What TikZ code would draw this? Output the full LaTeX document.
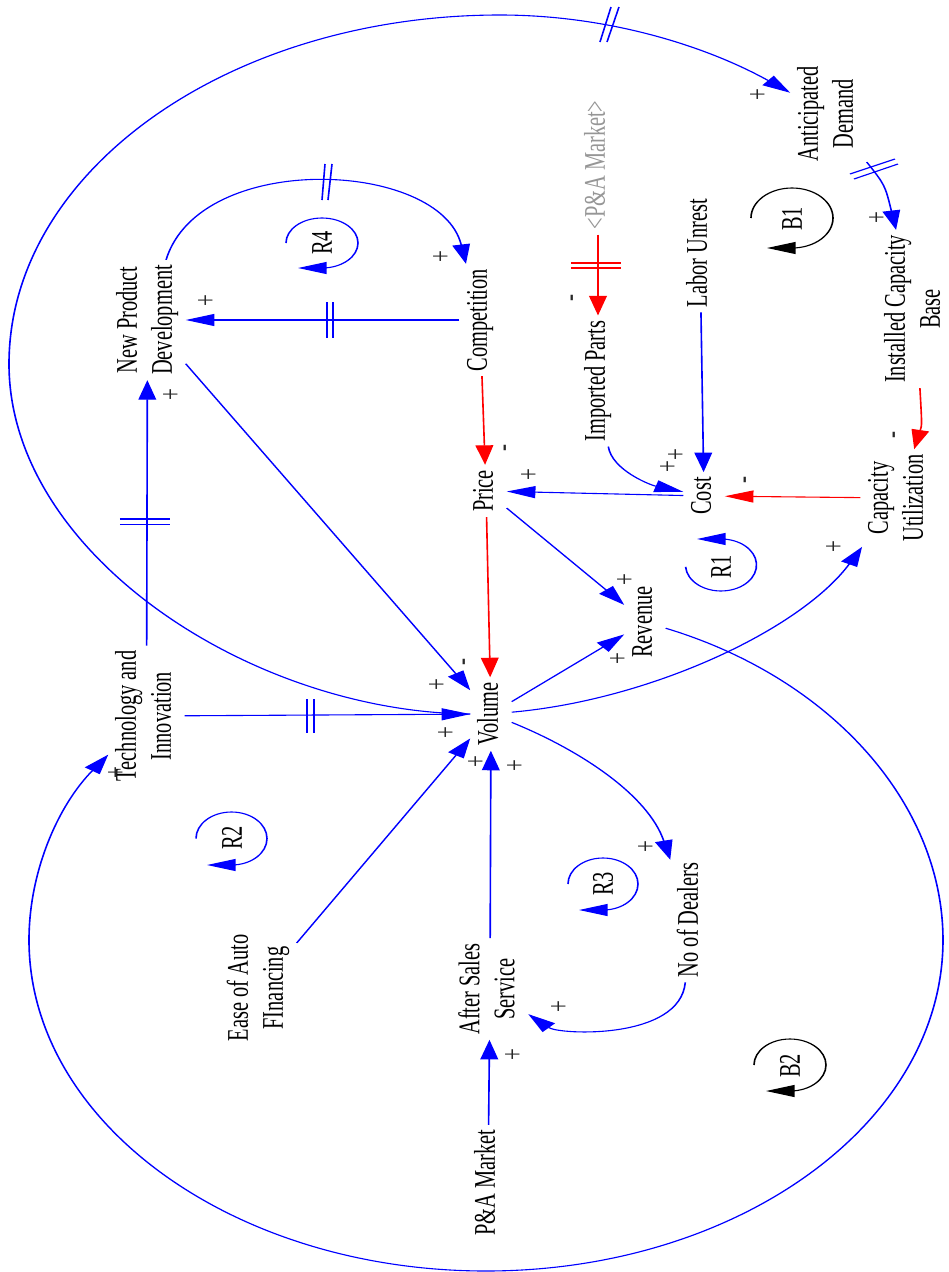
\documentclass[tikz,border=0pt]{standalone}
\usepackage{fontspec}
\setmainfont{Liberation Serif}
\usepackage{graphicx}
\usetikzlibrary{arrows.meta}
\definecolor{cldblue}{RGB}{0,0,255}
\definecolor{cldred}{RGB}{255,0,0}
\definecolor{shadowgray}{RGB}{150,150,150}
\definecolor{signgray}{RGB}{40,40,40}
\newcommand\rtxt[1]{\rotatebox{90}{\begin{tabular}{@{}c@{}}#1\end{tabular}}}
\tikzset{
  vnode/.style={inner xsep=2pt, inner ysep=5pt, font=\fontsize{20.4}{23.8}\selectfont},
  shadowvar/.style={vnode, text=shadowgray},
  sgn/.style={inner sep=0pt, text=signgray, font=\fontsize{21}{23}\selectfont},
  lnk/.style={line width=1.1pt, -{Triangle[length=19.5pt,width=12pt]}},
  blink/.style={lnk, draw=cldblue},
  rlink/.style={lnk, draw=cldred},
  hashb/.style={draw=cldblue, line width=1.1pt},
  hashr/.style={draw=cldred, line width=1.1pt},
  loopb/.style={lnk, draw=cldblue},
  loopk/.style={lnk, draw=black},
}
\begin{document}
\begin{tikzpicture}
\useasboundingbox (0,0) rectangle (948pt,-1272pt);
\begin{scope}[transform canvas={xscale=1.470588}, x=0.68pt, y=-1pt]
% variables
\node[vnode] (antd) at (828.5,114) {\rtxt{Anticipated\\Demand}};
\node[vnode] (icb) at (915.5,309) {\rtxt{Installed Capacity\\Base}};
\node[shadowvar] (pam2) at (598,165) {\rtxt{<P\&A Market>}};
\node[vnode] (labor) at (700,253) {\rtxt{Labor Unrest}};
\node[vnode] (imp) at (598,381) {\rtxt{Imported Parts}};
\node[vnode] (cost) at (704,496) {\rtxt{Cost}};
\node[vnode] (cap) at (898.5,498) {\rtxt{Capacity\\Utilization}};
\node[vnode] (rev) at (645,622) {\rtxt{Revenue}};
\node[vnode] (price) at (486,491) {\rtxt{Price}};
\node[vnode] (comp) at (480,320) {\rtxt{Competition}};
\node[vnode] (npd) at (147.5,320) {\rtxt{New Product\\Development}};
\node[vnode] (tech) at (146.5,716) {\rtxt{Technology and\\Innovation}};
\node[vnode] (vol) at (491,714) {\rtxt{Volume}};
\node[vnode] (ease) at (258.5,988) {\rtxt{Ease of Auto\\FInancing}};
\node[vnode] (ass) at (490,989) {\rtxt{After Sales\\Service}};
\node[vnode] (dealers) at (691,920) {\rtxt{No of Dealers}};
\node[vnode] (pam) at (488,1183) {\rtxt{P\&A Market}};
% loop labels
\node[vnode] (lb1) at (795,219) {\rtxt{B1}};
\node[vnode] (lb2) at (793,1066) {\rtxt{B2}};
\node[vnode] (lr1) at (724,567) {\rtxt{R1}};
\node[vnode] (lr2) at (235,838) {\rtxt{R2}};
\node[vnode] (lr3) at (606,884) {\rtxt{R3}};
\node[vnode] (lr4) at (325,243) {\rtxt{R4}};
% loop arrows
\draw[loopb] (685.6,566.8) arc[start angle=176, end angle=-90, x radius=35.5, y radius=26] -- ++(-24,0);
\draw[loopb] (286,243) arc[start angle=180, end angle=450, x radius=36, y radius=25] -- ++(-24,0);
\draw[loopb] (196,838.5) arc[start angle=180, end angle=450, x radius=35.5, y radius=26.5] -- ++(-24.5,0);
\draw[loopb] (568,884) arc[start angle=180, end angle=450, x radius=35, y radius=26] -- ++(-24,0);
\draw[loopk] (751,218) arc[start angle=180, end angle=450, x radius=41, y radius=30] -- ++(-25,0);
\draw[loopk] (754,1065) arc[start angle=180, end angle=450, x radius=36, y radius=26] -- ++(-24,0);
% connectors
\draw[blink] (vol.west) .. controls (250,712) and (9,553) .. (9,364)
   .. controls (9,171) and (229,15) .. (500,15)
   .. controls (608,15) and (706,46) .. (antd);
\draw[blink] (rev) .. controls (832.7,678.5) and (943,805) .. (943,940)
   .. controls (943,1123) and (738,1271) .. (486,1271)
   .. controls (234,1271) and (29,1123) .. (29,940)
   .. controls (29,872) and (57.8,805.6) .. (tech);
\draw[blink] (antd) .. controls (885,185) .. (icb);
\draw[rlink] (icb) .. controls (922,425) .. (cap);
\draw[rlink] (cap) -- (cost);
\draw[rlink] (pam2) -- (imp);
\draw[blink] (labor) -- (cost);
\draw[blink] (imp) .. controls (612,470) and (650,485) .. (cost);
\draw[blink] (cost) -- (price);
\draw[rlink] (comp) -- (price);
\draw[blink] (comp) -- (npd);
\draw[blink] (npd) .. controls (200,150) and (440,160) .. (comp);
\draw[blink] (tech) -- (npd);
\draw[blink] (npd) -- (vol);
\draw[blink] (tech) -- (vol);
\draw[blink] (ease) -- (vol);
\draw[blink] (ass) -- (vol);
\draw[rlink] (price) -- (vol);
\draw[blink] (price) -- (rev);
\draw[blink] (vol) -- (rev);
\draw[blink] (vol) .. controls (650,700) and (800,630) .. (cap);
\draw[blink] (vol) .. controls (580,750) and (648,795) .. (dealers);
\draw[blink] (dealers) .. controls (680,1040) and (560,1035) .. (ass);
\draw[blink] (pam) -- (ass);
% delay marks
\draw[hashb] (600,42) -- (611,7) (607,42) -- (619,7);
\draw[hashb] (850,174) -- (895,159) (854,179) -- (898,164);
\draw[hashb] (322,200) -- (325,164) (328,200) -- (332,164);
\draw[hashb] (327,302) -- (327,338) (333,302) -- (333,338);
\draw[hashb] (120,519) -- (170,519) (120,524.5) -- (170,524.5);
\draw[hashb] (307,699) -- (307,733) (314,699) -- (314,733);
\draw[hashr] (571,263) -- (621,263) (571,268) -- (621,268);
% polarity signs
\node[sgn] (s1) at (759,95) {\rotatebox{90}{+}};
\node[sgn] (s2) at (878,218) {\rotatebox{90}{+}};
\node[sgn] (s3) at (575,298) {\rotatebox{90}{-}};
\node[sgn] (s4) at (897,435) {\rotatebox{90}{-}};
\node[sgn] (s5) at (748,480) {\rotatebox{90}{-}};
\node[sgn] (s6) at (677,455) {\rotatebox{90}{+}};
\node[sgn] (s7) at (669,467) {\rotatebox{90}{+}};
\node[sgn] (s8) at (530,475) {\rotatebox{90}{+}};
\node[sgn] (s9) at (508,448) {\rotatebox{90}{-}};
\node[sgn] (s10) at (626,580) {\rotatebox{90}{+}};
\node[sgn] (s11) at (619,659) {\rotatebox{90}{+}};
\node[sgn] (s12) at (835,547) {\rotatebox{90}{+}};
\node[sgn] (s13) at (442,257) {\rotatebox{90}{+}};
\node[sgn] (s14) at (207,301) {\rotatebox{90}{+}};
\node[sgn] (s15) at (172,395) {\rotatebox{90}{+}};
\node[sgn] (s16) at (467,662) {\rotatebox{90}{-}};
\node[sgn] (s17) at (438,685) {\rotatebox{90}{+}};
\node[sgn] (s18) at (447,733) {\rotatebox{90}{+}};
\node[sgn] (s19) at (477,762) {\rotatebox{90}{+}};
\node[sgn] (s20) at (516,766) {\rotatebox{90}{+}};
\node[sgn] (s21) at (647,847) {\rotatebox{90}{+}};
\node[sgn] (s22) at (560,1007) {\rotatebox{90}{+}};
\node[sgn] (s23) at (514,1055) {\rotatebox{90}{+}};
\node[sgn] (s24) at (117,773) {\rotatebox{90}{+}};
\end{scope}
\end{tikzpicture}
\end{document}
